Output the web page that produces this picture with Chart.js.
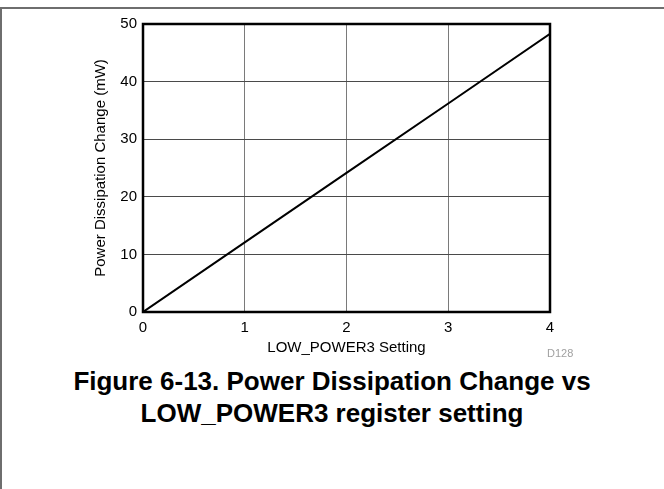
<!DOCTYPE html>
<html>
<head>
<meta charset="utf-8">
<script src="https://cdn.jsdelivr.net/npm/chart.js@4"></script>
<style>
  body { margin: 0; background: #fff; }
  #page {
    position: relative; width: 664px; height: 489px; overflow: hidden;
    font-family: "Liberation Sans", Arial, sans-serif;
  }
  #frameTop { position: absolute; left: 0; top: 7px; width: 664px; height: 2px; background: #6e6e6e; }
  #frameLeft { position: absolute; left: 0; top: 7px; width: 2px; height: 482px; background: #6e6e6e; }
  #wrap { position: absolute; left: 0; top: 0; width: 664px; height: 360px; }
  #code { position: absolute; left: 547px; top: 347px; font-size: 11px; color: #a0a0a0; }
  #caption {
    position: absolute; left: 0; top: 365px; width: 664px; text-align: center;
    font-size: 26px; font-weight: bold; line-height: 32px; color: #000;
  }
</style>
</head>
<body>
<div id="page">
  <div id="frameTop"></div>
  <div id="frameLeft"></div>
  <div id="wrap"><canvas id="chart" width="664" height="360"></canvas></div>
  <div id="code">D128</div>
  <div id="caption">Figure 6-13. Power Dissipation Change vs<br>LOW_POWER3 register setting</div>
</div>
<script>
// LOW_POWER3 setting vs power dissipation change (mW)
const settings = [0, 1, 2, 3, 4];
const powerChange = [0, 12.1, 24.15, 36.2, 48.3];
const xTicks = [0, 1, 2, 3, 4];
const yTicks = [0, 10, 20, 30, 40, 50];

const points = settings.map((s, i) => ({ x: s, y: powerChange[i] }));

// draw the black box round the plot area
const frame = {
    id: 'frame',
    afterDraw(chart) {
        const a = chart.chartArea;
        const ctx = chart.ctx;
        ctx.save();
        ctx.strokeStyle = '#000';
        ctx.lineWidth = 2.5;
        ctx.strokeRect(a.left, a.top, a.right - a.left, a.bottom - a.top);
        ctx.restore();
    }
};

const font = { family: '"Liberation Sans", Arial, sans-serif', size: 15 };

new Chart(document.getElementById('chart').getContext('2d'), {
    type: 'line',
    data: {
        datasets: [{
            data: points,
            borderColor: '#000',
            borderWidth: 2,
            pointRadius: 0,
            tension: 0
        }]
    },
    options: {
        responsive: false,
        animation: false,
        layout: { padding: { left: 88, top: 24, right: 114, bottom: 0 } },
        plugins: { legend: { display: false }, tooltip: { enabled: false } },
        scales: {
            x: {
                type: 'linear',
                min: 0, max: 4,
                afterBuildTicks: s => { s.ticks = xTicks.map(v => ({ value: v })); },
                afterFit: s => { s.height = 48; },
                grid: { color: '#7a7a7a', lineWidth: 1, drawTicks: false },
                border: { display: false },
                ticks: { color: '#000', font: font, padding: 7, maxRotation: 0 },
                title: { display: true, text: 'LOW_POWER3 Setting', color: '#000', font: font, padding: { top: 0, bottom: 3 } }
            },
            y: {
                type: 'linear',
                min: 0, max: 50,
                afterBuildTicks: s => { s.ticks = yTicks.map(v => ({ value: v })); },
                afterFit: s => { s.width = 55; },
                grid: { color: '#4a4a4a', lineWidth: 1, drawTicks: false },
                border: { display: false },
                ticks: { color: '#000', font: font, padding: 6 },
                title: { display: true, text: 'Power Dissipation Change (mW)', color: '#000', font: font, padding: { top: 4, bottom: 0 } }
            }
        }
    },
    plugins: [frame]
});
</script>
</body>
</html>
